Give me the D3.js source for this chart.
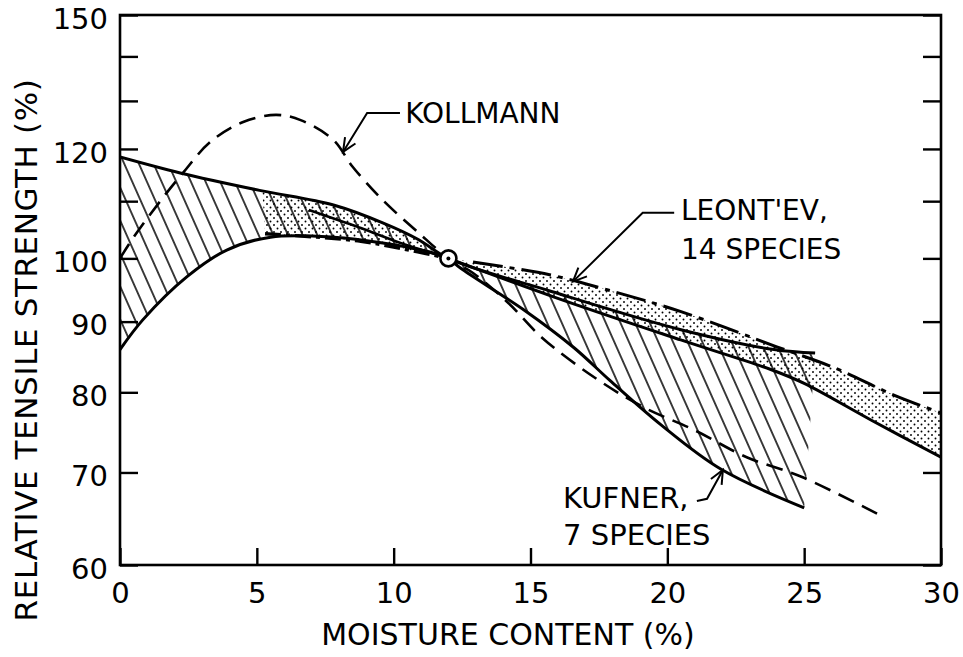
<!DOCTYPE html>
<html><head><meta charset="utf-8">
<script src="https://cdn.jsdelivr.net/npm/d3@7"></script>
<style>body{margin:0;background:#fff}svg{display:block}text{font-family:"DejaVu Sans",sans-serif;fill:#000}</style>
</head><body><svg id="c" width="963" height="657"></svg>
<script>
// ---------- data ----------
const xTicks = [0, 5, 10, 15, 20, 25, 30];
const yTicks = [60, 70, 80, 90, 100, 110, 120, 130, 140, 150];
const yLabels = [60, 70, 80, 90, 100, 120, 150];

const kollmannX = [0, 0.5, 1.5, 2.3, 3.3, 4.5, 5.7, 6.6, 7.8, 8.5, 9.6, 10.9, 12, 12.9, 14.2, 15.4, 17.3, 19.1, 21.0, 22.9, 24.9, 27.9];
const kollmannY = [100, 103.6, 110.2, 115.3, 121.4, 125.5, 127, 125.9, 121.8, 116.5, 110.2, 104.4, 100, 97.6, 92.8, 87.7, 82.1, 78.1, 75.1, 71.8, 69.5, 65.0];

const kufnerUpperX = [0, 2.2, 5.1, 7.8, 9.6, 10.9, 12, 15.8, 20.5, 23.9, 25.4];
const kufnerUpperY = [118.4, 115.3, 112.0, 109.3, 106.1, 103.2, 100, 94.6, 88.8, 85.9, 85.4];
const kufnerLowerX = [0, 0.84, 2.45, 3.9, 5.5, 7.8, 9.6, 11.45, 12, 12.44, 14.75, 16.58, 17.9, 19.76, 21.95, 25];
const kufnerLowerY = [85.9, 90.3, 97.0, 101.4, 103.6, 103.6, 102.6, 100.9, 100, 98.4, 91.8, 86.2, 81.6, 75.8, 70.4, 66.0];

const leontevDashX = [12.9, 15.7, 17.8, 20.5, 24.0, 26.0, 28.3, 30];
const leontevDashY = [99.4, 97.3, 94.9, 91.5, 86.3, 83.5, 79.6, 77.3];
const leontevSolidX = [12, 15.84, 20.49, 23.78, 25, 27.44, 30];
const leontevSolidY = [100, 93.8, 87.3, 83.1, 81.2, 76.4, 71.8];
const leontevLeftDashX = [5.3, 7.2, 8.8, 10.0, 12];
const leontevLeftDashY = [104.2, 103.6, 102.9, 101.9, 100];
const leontevLeftSolidX = [6.9, 7.2, 8.8, 10.25, 12];
const leontevLeftSolidY = [108.4, 107.9, 105.2, 102.6, 100];
const leontevLeftTopX = [5.2, 7.8, 9.6, 10.9, 12];
const leontevLeftTopY = [111.9, 109.3, 106.1, 103.2, 100];

// annotations (data units)
const kollmannLeader = [[8.15, 119.4], [9.03, 127.4], [10.23, 127.4]];
const kollmannText = {x: 10.42, y: 125.3, lines: ["KOLLMANN"]};
const leontevLeader = [[16.55, 96.2], [19.1, 107.9], [20.25, 107.9]];
const leontevText = {x: 20.5, y: 106.6, lines: ["LEONT'EV,", "14 SPECIES"]};
const kufnerLeader = [[22.03, 70.3], [21.45, 67.0], [21.08, 66.75]];
const kufnerText = {x: 16.19, y: 66.0, lines: ["KUFNER,", "7 SPECIES"]};
const refPoint = [12, 100];

// ---------- drawing ----------
const svg = d3.select("#c");
const x = d3.scaleLinear().domain([0, 30]).range([120, 941]);
const y = d3.scaleLog().domain([60, 150]).range([565, 15]);

const defs = svg.append("defs");
const hp = defs.append("pattern").attr("id", "hatch").attr("patternUnits", "userSpaceOnUse")
  .attr("width", 13.4).attr("height", 20).attr("patternTransform", "rotate(-24)");
hp.append("line").attr("x1", 6.7).attr("x2", 6.7).attr("y1", -1).attr("y2", 21)
  .attr("stroke", "#000").attr("stroke-width", 1.5);
const sp = defs.append("pattern").attr("id", "stip").attr("patternUnits", "userSpaceOnUse")
  .attr("width", 7).attr("height", 7);
sp.append("circle").attr("cx", 1).attr("cy", 1).attr("r", 0.95).attr("fill", "#000");
sp.append("circle").attr("cx", 4.5).attr("cy", 4.5).attr("r", 0.95).attr("fill", "#000");
defs.append("clipPath").attr("id", "plot").append("rect")
  .attr("x", 120).attr("y", 15).attr("width", 821).attr("height", 550);

const pts = (xs, ys) => xs.map((v, i) => [x(v), y(ys[i])]);
const line = d3.line().curve(d3.curveCatmullRom.alpha(0.5));
const band = (top, bot) => line(top) + line(bot.slice().reverse()).replace(/^M/, "L") + "Z";

const g = svg.append("g").attr("clip-path", "url(#plot)");

// Kufner hatched band
g.append("path").attr("d", band(pts(kufnerUpperX, kufnerUpperY), pts(kufnerLowerX, kufnerLowerY)))
  .attr("fill", "url(#hatch)");
// Leont'ev stippled bands
g.append("path").attr("d", band(pts(leontevLeftTopX, leontevLeftTopY), pts(leontevLeftDashX, leontevLeftDashY)))
  .attr("fill", "url(#stip)");
g.append("path").attr("d", band([[x(12), y(100)]].concat(pts(leontevDashX, leontevDashY)), pts(leontevSolidX, leontevSolidY)))
  .attr("fill", "url(#stip)");

const drawLine = (xs, ys, w, dash) => g.append("path").attr("d", line(pts(xs, ys)))
  .attr("fill", "none").attr("stroke", "#000").attr("stroke-width", w)
  .attr("stroke-dasharray", dash || null).attr("stroke-linecap", "butt");

drawLine(kufnerUpperX, kufnerUpperY, 3);
drawLine(kufnerLowerX, kufnerLowerY, 3);
drawLine(kollmannX, kollmannY, 2.6, "17,9");
drawLine(leontevDashX, leontevDashY, 3, "30,7,5,7");
drawLine(leontevSolidX, leontevSolidY, 3);
drawLine(leontevLeftDashX, leontevLeftDashY, 3.4, "16,5,4,5");
drawLine(leontevLeftSolidX, leontevLeftSolidY, 2.6);

// reference point
svg.append("circle").attr("cx", x(refPoint[0])).attr("cy", y(refPoint[1])).attr("r", 8)
  .attr("fill", "#fff").attr("stroke", "#000").attr("stroke-width", 2.6);
svg.append("circle").attr("cx", x(refPoint[0])).attr("cy", y(refPoint[1])).attr("r", 2).attr("fill", "#000");

// frame and axes
svg.append("rect").attr("x", 120).attr("y", 15).attr("width", 821).attr("height", 550)
  .attr("fill", "none").attr("stroke", "#000").attr("stroke-width", 2.6);

const styleAxis = sel => {
  sel.select(".domain").remove();
  sel.selectAll(".tick line").attr("stroke", "#000").attr("stroke-width", 2.4);
  sel.selectAll(".tick text").style("font-family", "DejaVu Sans").style("font-size", "29px").attr("fill", "#000");
};
svg.append("g").attr("transform", "translate(120,0)")
  .call(d3.axisLeft(y).tickValues(yTicks).tickSize(-18).tickPadding(12)
    .tickFormat(d => yLabels.includes(d) ? d : ""))
  .call(styleAxis).selectAll(".tick text").attr("dy", "0.45em");
svg.append("g").attr("transform", "translate(941,0)")
  .call(d3.axisRight(y).tickValues(yTicks).tickSize(-18).tickFormat(""))
  .call(styleAxis);
svg.append("g").attr("transform", "translate(0,565)")
  .call(d3.axisBottom(x).tickValues(xTicks).tickSize(-17).tickPadding(17))
  .call(styleAxis);

// axis titles
svg.append("text").attr("x", 508).attr("y", 645).attr("text-anchor", "middle")
  .style("font-size", "30px").text("MOISTURE CONTENT (%)");
svg.append("text").attr("transform", "translate(37,350) rotate(-90)").attr("text-anchor", "middle")
  .style("font-size", "31px").style("letter-spacing", "0.6px").text("RELATIVE TENSILE STRENGTH (%)");

// annotations
const leader = (p) => {
  const P = p.map(d => [x(d[0]), y(d[1])]);
  svg.append("path").attr("d", d3.line()(P)).attr("fill", "none").attr("stroke", "#000").attr("stroke-width", 2);
  const tip = P[0], from = P[1];
  const a = Math.atan2(from[1] - tip[1], from[0] - tip[0]);
  const L = 15, s = 0.42;
  const arm = k => [tip[0] + L * Math.cos(a + k * s), tip[1] + L * Math.sin(a + k * s)];
  svg.append("path").attr("d", d3.line()([arm(1), tip, arm(-1)])).attr("fill", "none")
    .attr("stroke", "#000").attr("stroke-width", 2);
};
const label = (t, size, gap) => {
  t.lines.forEach((s, i) => svg.append("text").attr("x", x(t.x)).attr("y", y(t.y) + i * gap)
    .style("font-size", size + "px").text(s));
};
leader(kollmannLeader); label(kollmannText, 28, 0);
leader(leontevLeader); label(leontevText, 28, 39);
leader(kufnerLeader); label(kufnerText, 29, 37);
</script></body></html>
